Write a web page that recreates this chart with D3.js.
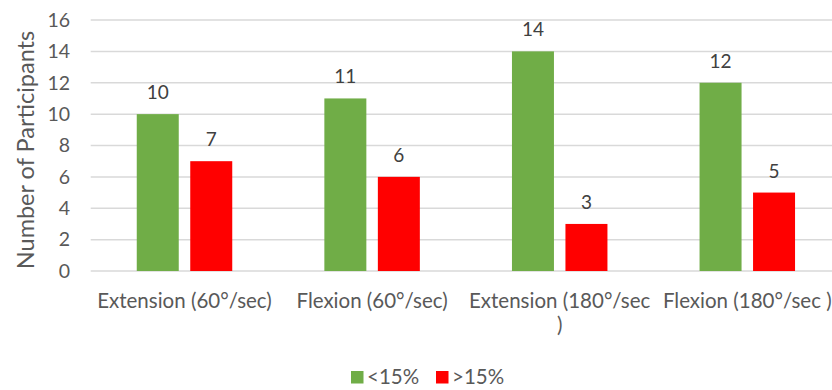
<!DOCTYPE html>
<html>
<head>
<meta charset="utf-8">
<script src="https://cdn.jsdelivr.net/npm/d3@7"></script>
<style>
  html, body { margin: 0; padding: 0; background: #fff; }
  svg { display: block; font-family: "Lato", "Open Sans", sans-serif; }
</style>
</head>
<body>
<svg id="chart" width="832" height="390"></svg>
<script>
const categories = ["Extension (60°/sec)", "Flexion (60°/sec)", "Extension (180°/sec)", "Flexion (180°/sec )"];
const categoryLines = [["Extension (60°/sec)"], ["Flexion (60°/sec)"], ["Extension (180°/sec", ")"], ["Flexion (180°/sec )"]];
const seriesNames = ["<15%", ">15%"];
const below15 = [10, 11, 14, 12];
const above15 = [7, 6, 3, 5];
const yTicks = [0, 2, 4, 6, 8, 10, 12, 14, 16];
const colors = ["#70AD47", "#FF0000"];

const seriesValues = [below15, above15];
const svg = d3.select("#chart");

const y = d3.scaleLinear().domain([0, 16]).range([271, 20]);
const x0 = d3.scaleBand().domain(categories).range([90.7, 841.1]).paddingInner(0.491).paddingOuter(0.2455);
const x1 = d3.scaleBand().domain(seriesNames).range([0, x0.bandwidth()]).paddingInner(0.215).paddingOuter(0);

// gridlines
svg.append("g").selectAll("line").data(yTicks).join("line")
  .attr("x1", 90.7).attr("x2", 832)
  .attr("y1", d => y(d)).attr("y2", d => y(d))
  .attr("stroke", "#d9d9d9").attr("stroke-width", 1.5);

// y tick labels
svg.append("g").selectAll("text").data(yTicks).join("text")
  .attr("x", 70).attr("y", d => y(d)).attr("dy", "0.35em")
  .attr("text-anchor", "end").attr("font-size", 19.5).attr("fill", "#595959")
  .text(d => d);

// y axis title
svg.append("text")
  .attr("transform", "translate(34,150) rotate(-90)")
  .attr("text-anchor", "middle").attr("font-size", 23.5).attr("fill", "#595959")
  .text("Number of Participants");

// bars
const groups = svg.append("g").selectAll("g").data(categories).join("g")
  .attr("transform", d => `translate(${x0(d)},0)`);

groups.each(function(cat, i) {
  const g = d3.select(this);
  seriesNames.forEach((s, j) => {
    const v = seriesValues[j][i];
    g.append("rect")
      .attr("x", x1(s)).attr("width", x1.bandwidth())
      .attr("y", y(v)).attr("height", y(0) - y(v))
      .attr("fill", colors[j]);
    g.append("text")
      .attr("x", x1(s) + x1.bandwidth() / 2).attr("y", y(v) - 15)
      .attr("text-anchor", "middle").attr("font-size", 19).attr("fill", "#404040")
      .text(v);
  });
});

// category labels
svg.append("g").selectAll("text").data(categories).join("text")
  .attr("x", d => x0(d) + x0.bandwidth() / 2)
  .attr("y", 307.5)
  .attr("text-anchor", "middle").attr("font-size", 20.5).attr("fill", "#595959")
  .each(function(d, i) {
    d3.select(this).selectAll("tspan").data(categoryLines[i]).join("tspan")
      .attr("x", x0(d) + x0.bandwidth() / 2)
      .attr("dy", (t, k) => k === 0 ? 0 : 24)
      .text(t => t);
  });

// legend
const legendItems = [{name: seriesNames[0], x: 351, color: colors[0]}, {name: seriesNames[1], x: 436, color: colors[1]}];
const lg = svg.append("g");
legendItems.forEach(it => {
  lg.append("rect").attr("x", it.x).attr("y", 371).attr("width", 12.5).attr("height", 12.5).attr("fill", it.color);
  lg.append("text").attr("x", it.x + 16).attr("y", 384)
    .attr("font-size", 20.5).attr("fill", "#595959").text(it.name);
});
</script>
</body>
</html>
